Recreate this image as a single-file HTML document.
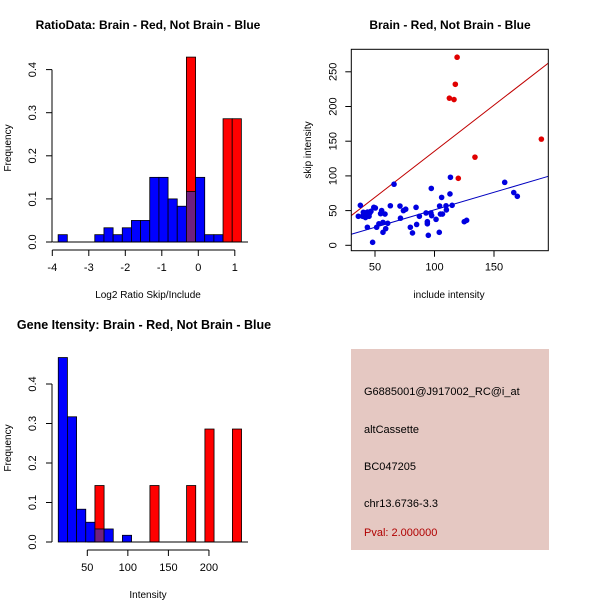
<!DOCTYPE html>
<html><head><meta charset="utf-8"><style>body{margin:0;background:#fff}svg{display:block;font-family:"Liberation Sans",sans-serif}</style></head>
<body>
<svg id="c" width="600" height="600" xmlns="http://www.w3.org/2000/svg">
<rect width="600" height="600" fill="#fff"/>
<text x="148" y="29" font-size="12" font-weight="bold" text-anchor="middle">RatioData: Brain - Red, Not Brain - Blue</text>
<text x="450" y="29" font-size="12" font-weight="bold" text-anchor="middle">Brain - Red, Not Brain - Blue</text>
<text x="144" y="329" font-size="12.5" font-weight="bold" text-anchor="middle">Gene Itensity: Brain - Red, Not Brain - Blue</text>
<g id="p1"></g>
<g id="p2"></g>
<g id="p3"></g>
<g font-size="11">
<rect x="351" y="349" width="198" height="201" fill="#e5c8c2"/>
<text x="364" y="395">G6885001@J917002_RC@i_at</text>
<text x="364" y="433">altCassette</text>
<text x="364" y="470">BC047205</text>
<text x="364" y="507">chr13.6736-3.3</text>
<text x="364" y="536" fill="#b00000">Pval: 2.000000</text>
</g>
</svg>
<script>
const NS="http://www.w3.org/2000/svg";
// Plot 1 data
const ratioBinStart=-3.84, ratioBinWidth=0.251;
const ratioBlue=[0.017,0,0,0,0.017,0.033,0.017,0.033,0.05,0.05,0.15,0.15,0.10,0.083,0.117,0.15,0.017,0.017,0,0];
const ratioRed=[0,0,0,0,0,0,0,0,0,0,0,0,0,0,0.429,0,0,0,0.286,0.286];
const ratioXTicks=[-4,-3,-2,-1,0,1];
const ratioYTicks=[0,0.1,0.2,0.3,0.4];
// Plot 2 data
const redX=[119,117.5,112.5,116.4,189.8,134,120];
const redY=[271,232,212,210,153,127,96.5];
const blueX=[37.7,36,39.6,40.2,42,42,43.8,45,45.8,46.6,43.6,48,49,50.3,51.4,53.3,54.7,55.6,56.7,56.7,58.4,59,60.7,62.9,66,71,71.4,73.9,75.8,79.7,81.5,84.5,85,87.3,92.9,94,94,94.8,97,97.6,97.3,101.3,104,104.3,105,106.7,106,109.7,110,113,113.4,114.8,125,127,159,166.6,169.6];
const blueY=[57.6,41.8,41.8,47.5,46.6,40,48,41.8,47,49,26,4.3,54.7,53.8,26,31,45.6,50,33,18.7,45,24,31.7,57,88,56.6,39,50,52,26,17.8,54.7,30,41.8,46.6,34,31,14.4,46.6,42.7,82,37.4,18.7,56.6,45,45,69,57,51,74,98,57.6,34,36,90.7,76,70.6];
const redFit=[2.9,1.327];
const blueFit=[0.7,0.5045];
const scXTicks=[50,100,150];
const scYTicks=[0,50,100,150,200,250];
// Plot 3 data
const intBinStart=14.2, intBinWidth=11.3;
const intBlue=[0.467,0.317,0.083,0.05,0.033,0.033,0,0.017];
const intRed=[0,0,0,0,0.143,0,0,0,0,0,0.143,0,0,0,0.143,0,0.286,0,0,0.286];
const intXTicks=[50,100,150,200];
const intYTicks=[0,0.1,0.2,0.3,0.4];

function el(parent,tag,attrs,text){const e=document.createElementNS(NS,tag);for(const k in attrs)e.setAttribute(k,attrs[k]);if(text!==undefined)e.textContent=text;parent.appendChild(e);return e;}

function hist(g,o){
  const X=v=>o.x0+(v-o.xv0)*o.xs, Y=v=>o.y0-v*o.ys;
  const n=Math.max(o.blue.length,o.red.length);
  for(let k=0;k<n;k++){
    const b=o.blue[k]||0,r=o.red[k]||0,l=X(o.bs+k*o.bw),w=o.bw*o.xs;
    if(b>0){const e=el(g,'rect',{x:l,y:Y(b),width:w,height:Y(0)-Y(b),fill:'#0000ff',stroke:'#000','stroke-width':0.8});
      
      }
    if(r>0){const e=el(g,'rect',{x:l,y:Y(r),width:w,height:Y(0)-Y(r),fill:'#ff0000',stroke:'#000','stroke-width':0.8});
      
      }
    if(b>0&&r>0){const m=Math.min(b,r);const e=el(g,'rect',{x:l,y:Y(m),width:w,height:Y(0)-Y(m),fill:'#70207f',stroke:'#000','stroke-width':0.8});
      
      }
  }
  el(g,'line',{x1:o.x0,x2:o.xEnd,y1:o.y0,y2:o.y0,stroke:'#000'});
  const xt=o.xticks;
  el(g,'line',{x1:X(xt[0]),x2:X(xt[xt.length-1]),y1:o.axY,y2:o.axY,stroke:'#000'});
  xt.forEach(t=>{el(g,'line',{x1:X(t),x2:X(t),y1:o.axY,y2:o.axY+6,stroke:'#000'});
    const e=el(g,'text',{x:X(t),y:o.axY+21,'font-size':11,'text-anchor':'middle'},String(t));
    
    });
  const yt=o.yticks;
  el(g,'line',{x1:o.yAxX,x2:o.yAxX,y1:Y(yt[0]),y2:Y(yt[yt.length-1]),stroke:'#000'});
  yt.forEach(t=>{el(g,'line',{x1:o.yAxX,x2:o.yAxX-6,y1:Y(t),y2:Y(t),stroke:'#000'});
    const e=el(g,'text',{x:o.yAxX-16,y:Y(t),'font-size':11,'text-anchor':'middle',transform:`rotate(-90 ${o.yAxX-16} ${Y(t)})`},t.toFixed(1));
    
    });
  const xl=el(g,'text',{x:148,y:o.xlabY,'font-size':10,'text-anchor':'middle'},o.xlab);
  
  
  const yl=el(g,'text',{x:11,y:o.ylabC,'font-size':10,'text-anchor':'middle',transform:`rotate(-90 11 ${o.ylabC})`},'Frequency');
  
  
}
hist(document.getElementById('p1'),{x0:52.3,xv0:-4,xs:36.5,y0:242,ys:431,bs:ratioBinStart,bw:ratioBinWidth,blue:ratioBlue,red:ratioRed,xEnd:248,axY:250,xticks:ratioXTicks,yticks:ratioYTicks,yAxX:52,xlab:'Log2 Ratio Skip/Include',xlabY:298,ylabC:148});
hist(document.getElementById('p3'),{x0:87.3,xv0:50,xs:0.811,y0:542,ys:395,bs:intBinStart,bw:intBinWidth,blue:intBlue,red:intRed,xEnd:248,axY:550,xticks:intXTicks,yticks:intYTicks,yAxX:52,xlab:'Intensity',xlabY:598,ylabC:448});

// scatter
(function(){
  const g=document.getElementById('p2');
  const X=v=>375+(v-50)*1.19, Y=v=>245.3-v*0.694;
  const L=351.3,R=548.3,T=49.3,B=250.7;
  const cp=el(g,'clipPath',{id:'cp'});el(cp,'rect',{x:L,y:T,width:R-L,height:B-T});
  const xa=(L-375)/1.19+50, xb=(R-375)/1.19+50;
  const lr=el(g,'line',{x1:X(xa),y1:Y(redFit[0]+redFit[1]*xa),x2:X(xb),y2:Y(redFit[0]+redFit[1]*xb),stroke:'#c00000','clip-path':'url(#cp)'});
  
  
  const lb=el(g,'line',{x1:X(xa),y1:Y(blueFit[0]+blueFit[1]*xa),x2:X(xb),y2:Y(blueFit[0]+blueFit[1]*xb),stroke:'#0000c0','clip-path':'url(#cp)'});
  
  
  blueX.forEach((x,i)=>{const c=el(g,'circle',{cx:X(x),cy:Y(blueY[i]),r:2.8,fill:'#0000e0'});
    
    });
  redX.forEach((x,i)=>{const c=el(g,'circle',{cx:X(x),cy:Y(redY[i]),r:2.8,fill:'#e00000'});
    
    });
  el(g,'rect',{x:L,y:T,width:R-L,height:B-T,fill:'none',stroke:'#000'});
  scXTicks.forEach(t=>{el(g,'line',{x1:X(t),x2:X(t),y1:B,y2:B+6,stroke:'#000'});
    const e=el(g,'text',{x:X(t),y:B+20,'font-size':11,'text-anchor':'middle'},String(t));
    
    });
  scYTicks.forEach(t=>{el(g,'line',{x1:L,x2:L-6,y1:Y(t),y2:Y(t),stroke:'#000'});
    const e=el(g,'text',{x:L-15,y:Y(t),'font-size':11,'text-anchor':'middle',transform:`rotate(-90 ${L-15} ${Y(t)})`},String(t));
    
    });
  const xl=el(g,'text',{x:449,y:298,'font-size':10,'text-anchor':'middle'},'include intensity');
  
  
  const yl=el(g,'text',{x:311,y:150,'font-size':10,'text-anchor':'middle',transform:'rotate(-90 311 150)'},'skip intensity');
  
  
})();
</script>
</body></html>
